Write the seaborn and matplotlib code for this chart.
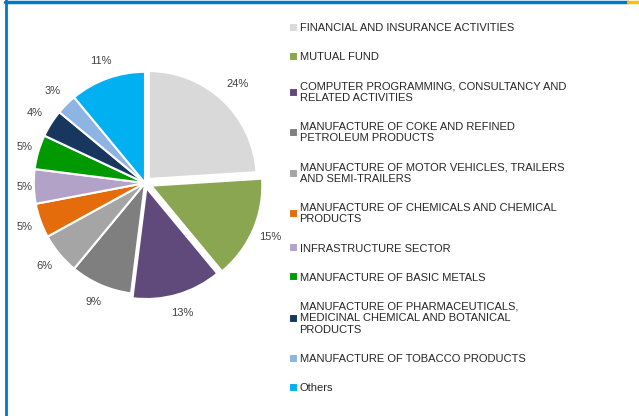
import seaborn as sns
import matplotlib.pyplot as plt
from matplotlib.lines import Line2D

# sector shares (%)
sectors = [
    "FINANCIAL AND INSURANCE ACTIVITIES",
    "MUTUAL FUND",
    "COMPUTER PROGRAMMING, CONSULTANCY AND\nRELATED ACTIVITIES",
    "MANUFACTURE OF COKE AND REFINED\nPETROLEUM PRODUCTS",
    "MANUFACTURE OF MOTOR VEHICLES, TRAILERS\nAND SEMI-TRAILERS",
    "MANUFACTURE OF CHEMICALS AND CHEMICAL\nPRODUCTS",
    "INFRASTRUCTURE SECTOR",
    "MANUFACTURE OF BASIC METALS",
    "MANUFACTURE OF PHARMACEUTICALS,\nMEDICINAL CHEMICAL AND BOTANICAL\nPRODUCTS",
    "MANUFACTURE OF TOBACCO PRODUCTS",
    "Others",
]
shares = [24, 15, 13, 9, 6, 5, 5, 5, 4, 3, 11]
explode = [0.05, 0.06, 0.045, 0, 0, 0, 0, 0, 0, 0, 0]

colors = sns.color_palette([
    "#D9D9D9", "#8BA650", "#604A7B", "#7F7F7F", "#A5A5A5", "#E46C0A",
    "#B3A2C7", "#009A00", "#17375E", "#8EB4E3", "#00B0F0",
])

sns.set_theme(style="white")
plt.rcParams['font.family'] = ['Liberation Sans', 'DejaVu Sans']

fig = plt.figure(figsize=(6.39, 4.16), dpi=100)
ax = fig.add_axes([6 / 639, 94 / 416, 278 / 639, 278 / 416])

wedges, texts, autotexts = ax.pie(
    shares,
    colors=colors,
    explode=explode,
    startangle=90,
    counterclock=False,
    autopct='%.0f%%',
    pctdistance=1.17,
    wedgeprops=dict(edgecolor='white', linewidth=1.5),
    textprops=dict(fontsize=8, color='#404040'),
)
wedges[0].set_radius(0.97)

# keep the percentage labels inside the plot area on the left, like Excel does
for t in autotexts:
    x, y = t.get_position()
    if x < -1.08:
        t.set_position((-1.08, y))

fig.legend(
    wedges, sectors,
    loc='upper left',
    bbox_to_anchor=(289 / 639, 1 - 23 / 416),
    frameon=False,
    fontsize=8,
    labelcolor='#262626',
    borderpad=0,
    borderaxespad=0,
    handlelength=0.85,
    handleheight=0.85,
    handletextpad=0.1,
    labelspacing=1.7,
)

# blue frame lines (top and left) with the yellow corner
fig.add_artist(Line2D([5 / 639, 628 / 639], [1 - 1.5 / 416] * 2, color='#0077C8', linewidth=2.5))
fig.add_artist(Line2D([628 / 639, 1], [1 - 1.5 / 416] * 2, color='#FFC000', linewidth=2.5))
fig.add_artist(Line2D([6 / 639] * 2, [0, 1], color='#0077C8', linewidth=2))

fig.savefig('out.png', dpi=100)
plt.close(fig)
